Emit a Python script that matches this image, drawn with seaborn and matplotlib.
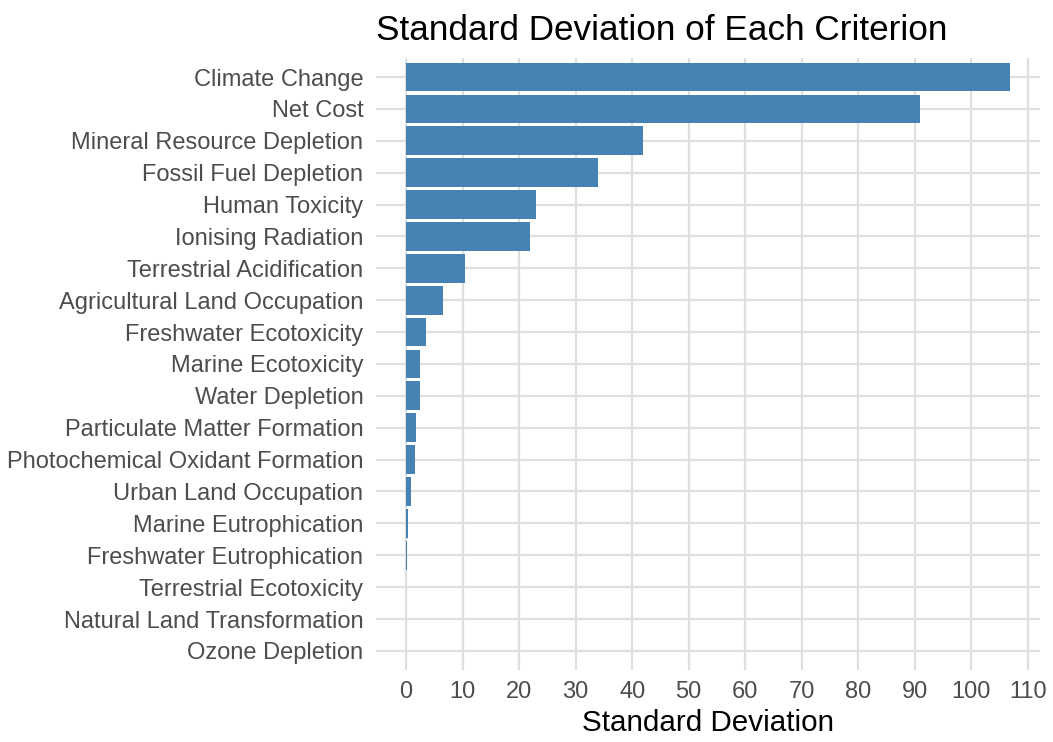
import matplotlib
matplotlib.use("Agg")
import matplotlib.pyplot as plt
import seaborn as sns
import pandas as pd

criteria = [
    "Climate Change", "Net Cost", "Mineral Resource Depletion", "Fossil Fuel Depletion",
    "Human Toxicity", "Ionising Radiation", "Terrestrial Acidification",
    "Agricultural Land Occupation", "Freshwater Ecotoxicity", "Marine Ecotoxicity",
    "Water Depletion", "Particulate Matter Formation", "Photochemical Oxidant Formation",
    "Urban Land Occupation", "Marine Eutrophication", "Freshwater Eutrophication",
    "Terrestrial Ecotoxicity", "Natural Land Transformation", "Ozone Depletion",
]
std_dev = [106.9, 90.9, 41.9, 34.0, 23.0, 22.0, 10.35, 6.6, 3.5, 2.5, 2.4, 1.8, 1.55,
           0.95, 0.3, 0.15, 0.02, 0.01, 0.005]
x_ticks = list(range(0, 111, 10))

df = pd.DataFrame({"Criterion": criteria, "SD": std_dev})

sns.set_theme(style="white")
plt.rcParams["font.family"] = ["Liberation Sans", "DejaVu Sans"]

fig = plt.figure(figsize=(10.53, 7.42), dpi=100)
ax = fig.add_axes([0.357, 0.097, 0.631, 0.825])

sns.barplot(data=df, x="SD", y="Criterion", order=criteria, orient="h",
            color="#4682B4", saturation=1, width=0.9, edgecolor="none", ax=ax)

ax.set_axisbelow(True)
ax.grid(True, color="#DFDFDF", linewidth=1.6)
for s in ax.spines.values():
    s.set_visible(False)

ax.set_xticks(x_ticks)
ax.set_xticklabels([str(t) for t in x_ticks])
span = max(std_dev)
ax.set_xlim(-0.05 * span, span * 1.05)
ax.set_ylim(len(criteria) - 0.4, -0.6)
ax.tick_params(axis="both", length=0, labelsize=17, labelcolor="#4D4D4D")
ax.tick_params(axis="y", pad=9)
ax.tick_params(axis="x", pad=8)
ax.set_ylabel("")
ax.set_xlabel("Standard Deviation", fontsize=21.3, color="black", labelpad=4)
ax.set_title("Standard Deviation of Each Criterion", fontsize=25.3, loc="left",
             color="black", pad=13)

fig.savefig("out.png", dpi=100)
